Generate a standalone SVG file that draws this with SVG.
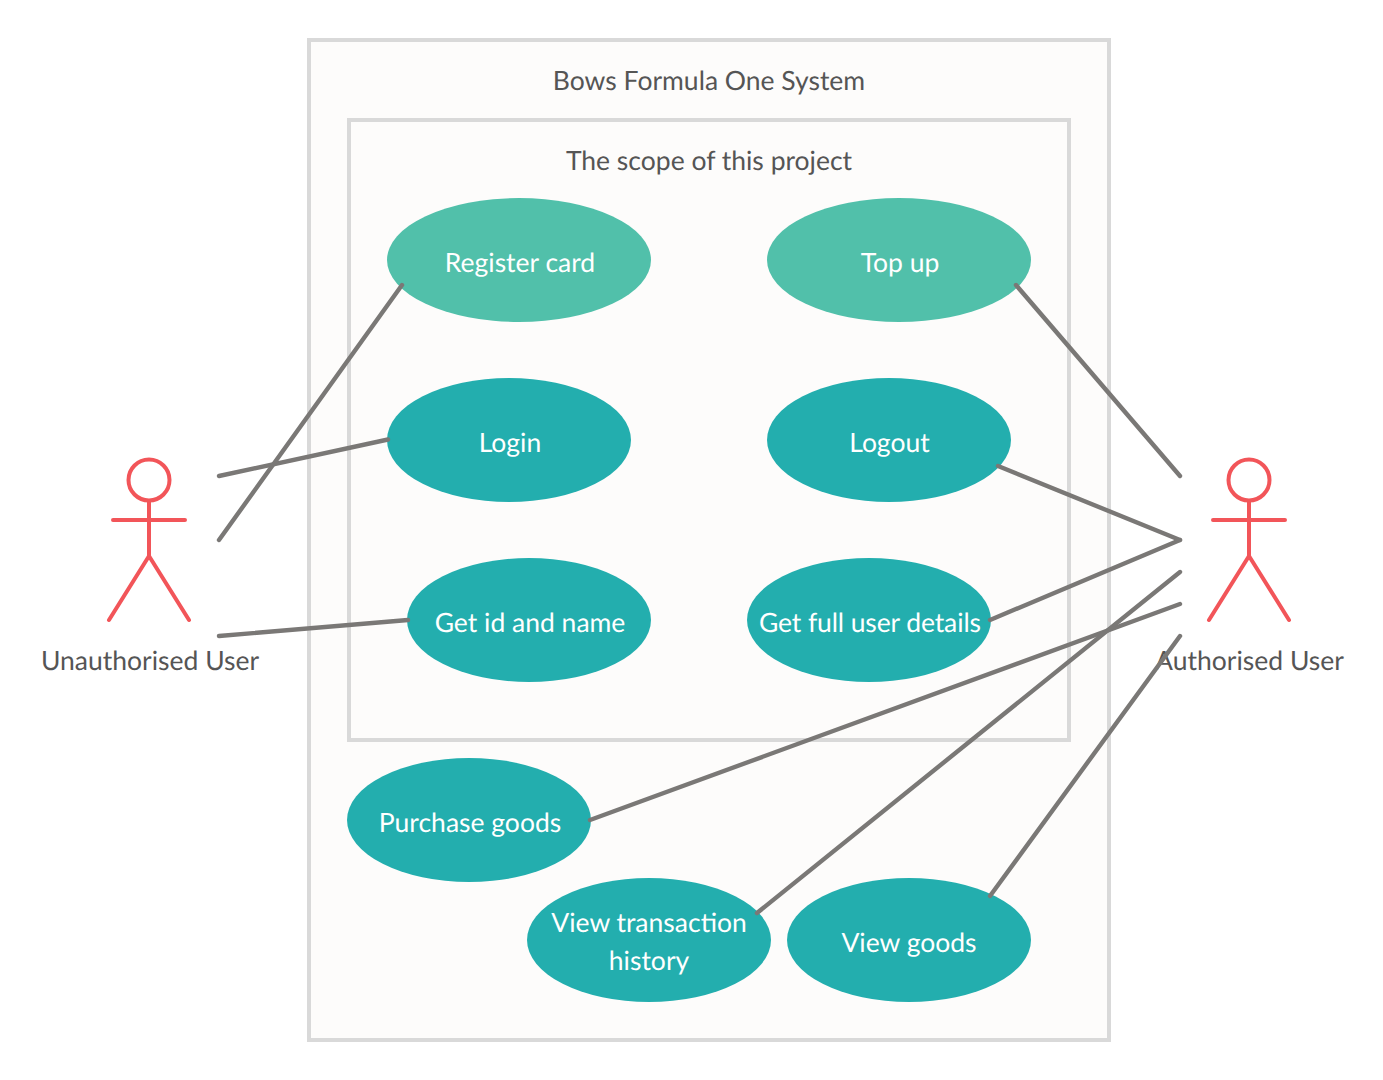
<svg xmlns="http://www.w3.org/2000/svg" width="1383" height="1080" viewBox="0 0 1383 1080">
<style>
text{font-family:Lato,"Open Sans",sans-serif;font-size:26.5px;text-anchor:middle;text-rendering:geometricPrecision}
.b{fill:#fdfcfb;stroke:#d9d9d9;stroke-width:4}
.l{fill:#555}
.w{fill:#fff}
.g{fill:#51c0aa}
.t{fill:#23aeae}
.a{fill:none;stroke:#f25559;stroke-width:4;stroke-linecap:round;stroke-linejoin:round}
#connectors line{stroke:#7a7876;stroke-width:4.4;stroke-linecap:round}
</style>
<rect width="1383" height="1080" fill="#fff"/>
<g id="system"><rect class="b" x="309" y="40" width="800" height="1000"/><text class="l" x="709" y="90">Bows Formula One System</text></g>
<g id="scope"><rect class="b" x="349" y="120" width="720" height="620"/><text class="l" x="709" y="170">The scope of this project</text></g>
<g id="register"><ellipse class="g" cx="519" cy="260" rx="132" ry="62"/><text class="w" x="520" y="272">Register card</text></g>
<g id="topup"><ellipse class="g" cx="899" cy="260" rx="132" ry="62"/><text class="w" x="900" y="272">Top up</text></g>
<g id="login"><ellipse class="t" cx="509" cy="440" rx="122" ry="62"/><text class="w" x="510" y="452">Login</text></g>
<g id="logout"><ellipse class="t" cx="889" cy="440" rx="122" ry="62"/><text class="w" x="889.5" y="452">Logout</text></g>
<g id="getid"><ellipse class="t" cx="529" cy="620" rx="122" ry="62"/><text class="w" x="530" y="632">Get id and name</text></g>
<g id="getfull"><ellipse class="t" cx="869" cy="620" rx="122" ry="62"/><text class="w" x="870" y="632" textLength="222">Get full user details</text></g>
<g id="purchase"><ellipse class="t" cx="469" cy="820" rx="122" ry="62"/><text class="w" x="470" y="832">Purchase goods</text></g>
<g id="history"><ellipse class="t" cx="649" cy="940" rx="122" ry="62"/><text class="w" x="649" y="932">View transaction</text><text class="w" x="649" y="970">history</text></g>
<g id="viewgoods"><ellipse class="t" cx="909" cy="940" rx="122" ry="62"/><text class="w" x="909" y="952">View goods</text></g>
<g id="unauth"><circle class="a" cx="149" cy="480" r="20.5"/><path class="a" d="M149 501V556M113 520H185M109 620L149 556L189 620"/><text class="l" x="150" y="670">Unauthorised User</text></g>
<g id="auth"><circle class="a" cx="1249" cy="480" r="20.5"/><path class="a" d="M1249 501V556M1213 520H1285M1209 620L1249 556L1289 620"/><text class="l" x="1249.5" y="670">Authorised User</text></g>
<g id="connectors">
<line x1="219" y1="476" x2="388" y2="439.5"/>
<line x1="219" y1="540" x2="402" y2="285"/>
<line x1="219" y1="636" x2="408" y2="620"/>
<line x1="1180" y1="476" x2="1016" y2="285"/>
<line x1="1180" y1="540" x2="998" y2="466"/>
<line x1="1180" y1="540" x2="990" y2="620"/>
<line x1="1180" y1="604" x2="590" y2="820"/>
<line x1="1180" y1="572" x2="757" y2="913"/>
<line x1="1180" y1="636" x2="990" y2="896"/>
</g>
</svg>
